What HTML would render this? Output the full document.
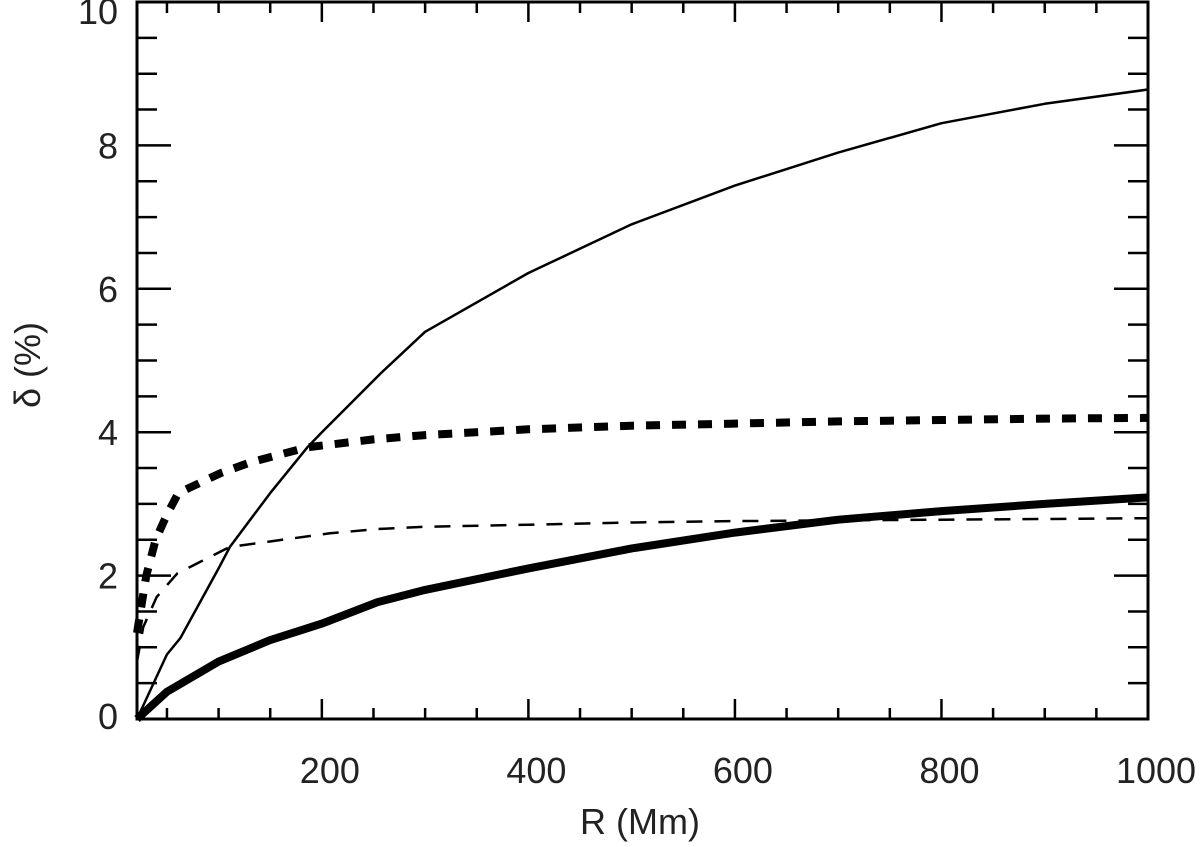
<!DOCTYPE html>
<html><head><meta charset="utf-8"><style>
html,body{margin:0;padding:0;background:#fff}
svg text{font-family:"Liberation Sans","DejaVu Sans",sans-serif;fill:#222}
</style></head><body>
<svg id="chart" width="1200" height="842" viewBox="0 0 1200 842" xmlns="http://www.w3.org/2000/svg">
<g id="axes"></g>
<g id="series"></g>
<text x="640" y="834" font-size="36" text-anchor="middle">R (Mm)</text>
<text transform="translate(40,365) rotate(-90)" font-size="36" text-anchor="middle">δ (%)</text>
</svg>
<script>
const xTicks=[200,400,600,800,1000];
const xTickLabels=["200","400","600","800","1000"];
const yTicks=[0,2,4,6,8,10];
const yTickLabels=["0","2","4","6","8","10"];
const thinSolidR=[21,50,63,100,111,150,186,200,257,300,400,500,600,700,800,900,1000];
const thinSolidV=[0,0.9,1.13,2.1,2.4,3.15,3.79,4.0,4.82,5.4,6.22,6.9,7.44,7.9,8.31,8.58,8.78];
const thickDashR=[21,30,39,50,61,102,131,186,250,300,400,500,600,700,800,900,1000];
const thickDashV=[1.2,2.0,2.5,2.85,3.15,3.43,3.58,3.79,3.9,3.96,4.04,4.09,4.12,4.15,4.17,4.19,4.2];
const thinDashR=[21,27,40,60,111,208,254,300,400,500,600,700,800,900,1000];
const thinDashV=[0.8,1.28,1.7,2.03,2.4,2.59,2.65,2.68,2.71,2.74,2.76,2.77,2.78,2.79,2.8];
const thickSolidR=[21,50,100,150,200,254,300,400,500,600,700,800,900,1000];
const thickSolidV=[0,0.38,0.8,1.1,1.33,1.63,1.8,2.1,2.38,2.6,2.78,2.9,3.0,3.09];

const X0=137,X1=1148,Y0=719,Y1=2,RMIN=21,RMAX=1000,VMIN=0,VMAX=10;
const sx=r=>X0+(r-RMIN)/(RMAX-RMIN)*(X1-X0);
const sy=v=>Y0-(v-VMIN)/(VMAX-VMIN)*(Y0-Y1);
const NS="http://www.w3.org/2000/svg";
const axes=document.getElementById('axes');
function mk(t,attrs,parent){const e=document.createElementNS(NS,t);for(const k in attrs)e.setAttribute(k,attrs[k]);parent.appendChild(e);return e;}
const fr=mk('rect',{x:X0,y:Y1,width:X1-X0,height:Y0-Y1,fill:'none',stroke:'#000','stroke-width':3},axes);


// x ticks
for(let r=50;r<=1000;r+=50){const major=r%200===0;const L=major?20:11;const x=sx(r);
 const t1=mk('line',{x1:x,x2:x,y1:Y0,y2:Y0-L,stroke:'#000','stroke-width':2.5},axes);
 
 
 const t2=mk('line',{x1:x,x2:x,y1:Y1,y2:Y1+L,stroke:'#000','stroke-width':2.5},axes);
 
 }
xTicks.forEach((r,i)=>{const t=mk('text',{x:sx(r)+8,y:783,'font-size':36,'text-anchor':'middle'},axes);t.textContent=xTickLabels[i];
 
 });
for(let v=0.5;v<10;v+=0.5){const major=Math.abs(v%2)<1e-6;const L=major?34:20;const y=sy(v);
 const t1=mk('line',{x1:X0,x2:X0+L,y1:y,y2:y,stroke:'#000','stroke-width':2.5},axes);
 
 
 const t2=mk('line',{x1:X1,x2:X1-L,y1:y,y2:y,stroke:'#000','stroke-width':2.5},axes);
 
 }
yTicks.forEach((v,i)=>{const t=mk('text',{x:118,y:sy(v)+13+(v===10?9:0)-(v===0?3:0),'font-size':36,'text-anchor':'end'},axes);t.textContent=yTickLabels[i];
 
 });
const sg=document.getElementById('series');
function line(R,V,w,dash,name){const d=R.map((r,i)=>(i?'L':'M')+sx(r).toFixed(1)+','+sy(V[i]).toFixed(1)).join(' ');
 const p=mk('path',{d:d,fill:'none',stroke:'#000','stroke-width':w,'stroke-linejoin':'round'},sg);
 if(dash)p.setAttribute('stroke-dasharray',dash);
 
 }
line(thinSolidR,thinSolidV,2.5,null,'thin-solid-line');
line(thickDashR,thickDashV,8,'14,12','thick-dashed-line');
line(thinDashR,thinDashV,2.5,'16,12','thin-dashed-line');
line(thickSolidR,thickSolidV,8,null,'thick-solid-line');
</script>
</body></html>
